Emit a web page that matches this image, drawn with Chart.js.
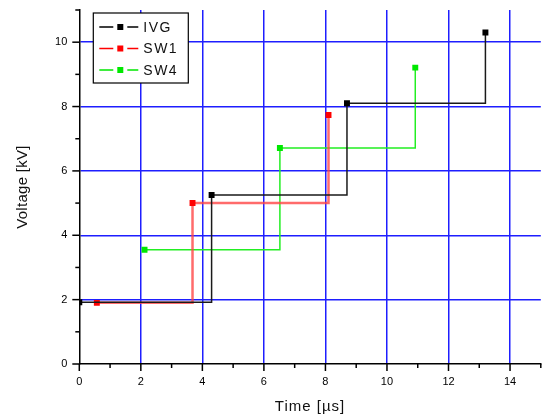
<!DOCTYPE html>
<html><head><meta charset="utf-8">
<script src="https://cdn.jsdelivr.net/npm/chart.js@4.4.0/dist/chart.umd.min.js"></script>
<style>html,body{margin:0;padding:0;background:#fff;}canvas{display:block;}</style>
</head><body>
<canvas id="c" width="545" height="418"></canvas>
<script>
// ---- data ----
const seriesNames = ['IVG', 'SW1', 'SW4'];
const ivgTime    = [0, 4.3, 8.7, 13.2];
const ivgVoltage = [1.92, 5.25, 8.1, 10.3];
const sw1Time    = [0.57, 3.68, 8.1];
const sw1Voltage = [1.9, 5.0, 7.74];
const sw4Time    = [2.12, 6.52, 10.92];
const sw4Voltage = [3.55, 6.71, 9.21];
const xTickLabels = ['0', '2', '4', '6', '8', '10', '12', '14'];
const yTickLabels = ['0', '2', '4', '6', '8', '10'];
const xTitle = 'Time [µs]';
const yTitle = 'Voltage [kV]';

const pts = (xs, ys) => xs.map((x, i) => ({x: x, y: ys[i]}));
const FONT = '"Liberation Sans", Arial, sans-serif';
const BLUE = 'rgb(30,30,255)';

const lineColors   = ['#1a1a1a', 'rgba(255,70,70,0.8)', '#22ee22'];
const markerColors = ['#000000', '#ff0000', '#00e800'];
const lineWidths   = [1.5, 2.5, 1.5];
const allData = [pts(ivgTime, ivgVoltage), pts(sw1Time, sw1Voltage), pts(sw4Time, sw4Voltage)];

const datasets = seriesNames.map((n, i) => ({
  label: n,
  data: allData[i],
  showLine: true,
  stepped: true,
  borderColor: lineColors[i],
  borderWidth: lineWidths[i],
  pointStyle: 'rect',
  pointRadius: 4.2,
  pointBorderWidth: 0,
  pointBackgroundColor: markerColors[i],
  fill: false
}));

const gridColor = (ctx) => {
  const v = ctx.tick ? ctx.tick.value : null;
  return (v !== null && v > 0 && v % 2 === 0) ? BLUE : 'rgba(0,0,0,0)';
};

const decor = {
  id: 'decor',
  afterDraw(chart) {
    const ctx = chart.ctx, xs = chart.scales.x, ys = chart.scales.y, ca = chart.chartArea;
    ctx.save();
    // tick marks
    ctx.strokeStyle = '#000';
    ctx.lineWidth = 1.5;
    for (let v = 0; v <= 15; v++) {
      const p = xs.getPixelForValue(v);
      const len = v % 2 === 0 ? 7 : 4;
      ctx.beginPath(); ctx.moveTo(p, ca.bottom); ctx.lineTo(p, ca.bottom + len); ctx.stroke();
    }
    for (let v = 0; v <= 11; v++) {
      const p = ys.getPixelForValue(v);
      const len = v % 2 === 0 ? 7 : 4;
      ctx.beginPath(); ctx.moveTo(ca.left, p); ctx.lineTo(ca.left - len, p); ctx.stroke();
    }
    // axis titles
    ctx.fillStyle = '#111';
    ctx.font = '15px ' + FONT;
    ctx.textAlign = 'center';
    ctx.textBaseline = 'middle';
    ctx.letterSpacing = '1px';
    ctx.fillText(xTitle, (ca.left + ca.right) / 2, 407);
    ctx.letterSpacing = '0.3px';
    ctx.save();
    ctx.translate(23, (ca.top + ca.bottom) / 2);
    ctx.rotate(-Math.PI / 2);
    ctx.fillText(yTitle, 0, 0);
    ctx.restore();
    // legend box
    const bx = ca.left + 14, by = ca.top + 3, bw = 95, bh = 70;
    ctx.fillStyle = '#fff';
    ctx.fillRect(bx, by, bw, bh);
    ctx.strokeStyle = '#000';
    ctx.lineWidth = 1.2;
    ctx.strokeRect(bx, by, bw, bh);
    ctx.font = '14px ' + FONT;
    ctx.letterSpacing = '1.5px';
    ctx.textAlign = 'left';
    chart.data.datasets.forEach((ds, i) => {
      const cy = by + 14 + i * 21.5;
      const x0 = bx + 6, mx = bx + 27, x1 = bx + 45;
      ctx.strokeStyle = markerColors[i];
      ctx.lineWidth = 1.3;
      ctx.beginPath();
      ctx.moveTo(x0, cy); ctx.lineTo(mx - 7, cy);
      ctx.moveTo(mx + 7, cy); ctx.lineTo(x1, cy);
      ctx.stroke();
      ctx.fillStyle = markerColors[i];
      ctx.fillRect(mx - 3, cy - 3, 6, 6);
      ctx.fillStyle = '#111';
      ctx.fillText(ds.label, bx + 50, cy + 1);
    });
    ctx.restore();
  }
};

new Chart(document.getElementById('c'), {
  type: 'scatter',
  data: { datasets: datasets },
  options: {
    responsive: false,
    animation: false,
    events: [],
    layout: { padding: { top: 10, right: 1.5, left: 0, bottom: 0 } },
    plugins: { legend: { display: false }, tooltip: { enabled: false } },
    scales: {
      x: {
        type: 'linear', min: 0, max: 15,
        afterFit: (s) => { s.height = 54; s.paddingLeft = 0; s.paddingRight = 0; },
        ticks: {
          stepSize: 1, autoSkip: false, maxRotation: 0, padding: 11,
          color: '#000', font: { family: FONT, size: 11 },
          callback: (v) => xTickLabels.includes(String(v)) ? String(v) : ''
        },
        grid: { color: gridColor, lineWidth: 1.5, drawTicks: false },
        border: { display: true, color: '#000', width: 1.5 }
      },
      y: {
        type: 'linear', min: 0, max: 11,
        afterFit: (s) => { s.width = 79.3; s.paddingTop = 0; s.paddingBottom = 0; },
        ticks: {
          stepSize: 1, autoSkip: false, padding: 12,
          color: '#000', font: { family: FONT, size: 11 },
          callback: (v) => yTickLabels.includes(String(v)) ? String(v) : ''
        },
        grid: { color: gridColor, lineWidth: 1.5, drawTicks: false },
        border: { display: true, color: '#000', width: 1.5 }
      }
    }
  },
  plugins: [decor]
});
</script>
</body></html>
